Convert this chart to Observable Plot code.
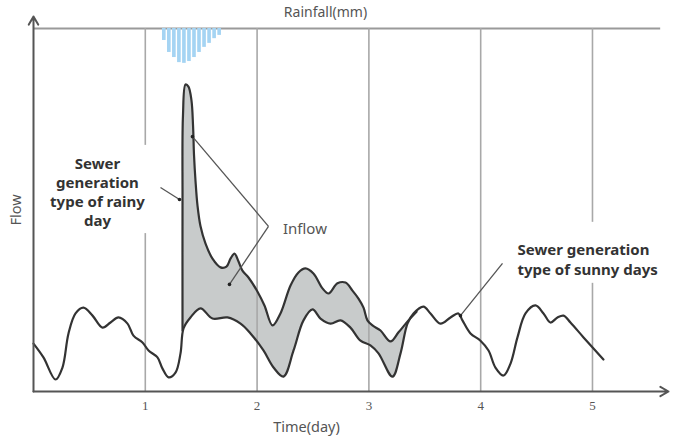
<!DOCTYPE html>
<html>
<head>
<meta charset="utf-8">
<script src="https://cdn.jsdelivr.net/npm/d3@7"></script>
<script src="https://cdn.jsdelivr.net/npm/@observablehq/plot@0.6"></script>
<style>
  html, body { margin: 0; padding: 0; background: #fff; }
</style>
</head>
<body>
<div id="chart"></div>
<script>
// ---- Data ----
// Dry-weather (sunny day) sewer flow: time in days, flow in relative units
const baseDay  = [0.000,0.089,0.197,0.259,0.313,0.376,0.447,0.528,0.617,0.689,0.760,0.841,0.894,0.975,1.029,1.109,1.154,1.208,1.270,1.315,1.342,1.404,1.494,1.601,1.735,1.852,1.941,2.057,2.147,2.236,2.326,2.415,2.496,2.567,2.657,2.746,2.835,2.925,3.014,3.086,3.211,3.283,3.345,3.399,3.488,3.551,3.640,3.730,3.801,3.837,3.909,3.998,4.070,4.132,4.204,4.267,4.329,4.401,4.490,4.562,4.624,4.687,4.741,4.803,4.920,5.098];
const baseFlow = [13.2,9.4,3.3,6.6,16.0,21.5,23.1,20.9,17.6,19.0,20.4,18.7,15.4,13.5,11.3,9.4,6.3,3.9,5.2,10.5,17.4,20.4,22.9,20.1,20.4,18.7,16.0,11.3,6.6,4.1,11.3,19.6,22.6,20.1,18.7,19.6,17.6,14.0,12.7,10.5,4.1,10.5,18.7,21.5,23.4,21.5,18.7,20.4,21.5,19.6,16.0,14.0,11.3,6.6,4.4,7.7,14.9,21.5,23.7,21.5,19.0,20.4,20.9,19.0,14.9,8.8];

// Wet-weather (rainy day) sewer flow
const rainyDay  = [1.333,1.333,1.337,1.360,1.386,1.413,1.427,1.436,1.449,1.467,1.494,1.538,1.601,1.673,1.726,1.762,1.798,1.834,1.869,1.923,2.004,2.066,2.138,2.209,2.299,2.370,2.433,2.504,2.585,2.639,2.719,2.791,2.853,2.907,2.952,2.987,3.032,3.104,3.193,3.265,3.354,3.426];
const rainyFlow = [16.8,52.6,76.0,84.6,84.0,80.2,73.3,65.0,58.1,51.2,45.5,40.8,36.6,34.2,34.4,36.6,38.0,35.8,33.3,31.4,27.5,23.7,18.2,21.5,29.2,32.8,33.9,32.5,28.4,27.0,29.8,30.0,27.8,25.6,23.1,19.6,18.2,16.8,13.8,16.3,19.6,22.0];

// Rainfall hyetograph (hanging from the top axis)
const rainDay = [1.170,1.215,1.260,1.305,1.350,1.395,1.440,1.485,1.530,1.575,1.620,1.665];
const rainMm  = [3.3,6.6,8.0,9.4,9.6,9.1,8.0,6.6,5.2,4.1,2.8,1.9];

// Axis ticks
const tickDays   = [1, 2, 3, 4, 5];
const tickLabels = ["1", "2", "3", "4", "5"];

// Gridline interruptions behind labels (flow units) per day
const gapDay  = [1, 5];
const gapLow  = [43.5, 29.8];
const gapHigh = [67.8, 46.6];

// Annotation texts
const rainyLabel = "Sewer\ngeneration\ntype of rainy\nday";
const sunnyLabel = "Sewer generation\ntype of sunny days";
const inflowLabel = "Inflow";
const xTitle = "Time(day)";
const yTitle = "Flow";
const topTitle = "Rainfall(mm)";

// ---- Build tables ----
const TOP = 100;
const base = baseDay.map((d, i) => ({day: d, flow: baseFlow[i]}));
const rainy = rainyDay.map((d, i) => ({day: d, flow: rainyFlow[i]}));
const rain = rainDay.map((d, i) => ({day: d, mm: rainMm[i]}));
const rainStep = 0.045;

const startDay = rainyDay[0], endDay = rainyDay[rainyDay.length - 1];
const polygon = rainy.concat(base.filter(p => p.day >= startDay && p.day <= endDay).reverse());

// gridline segments
const grid = [];
tickDays.forEach(d => {
  const g = gapDay.indexOf(d);
  if (g < 0) grid.push({day: d, y1: 0, y2: TOP});
  else {
    grid.push({day: d, y1: 0, y2: gapLow[g]});
    grid.push({day: d, y1: gapHigh[g], y2: TOP});
  }
});

const pointers = [
  {x1: 1.136, y1: 56.2, x2: 1.306, y2: 52.9},
  {x1: 2.102, y1: 45.5, x2: 1.422, y2: 70.2},
  {x1: 2.102, y1: 45.5, x2: 1.753, y2: 29.5},
  {x1: 4.195, y1: 35.3, x2: 3.819, y2: 20.9}
];

const lineColor = "#333";
const txtColor = "#555";

const chart = Plot.plot({
  width: 677,
  height: 438,
  marginLeft: 33,
  marginRight: 9,
  marginTop: 28,
  marginBottom: 47,
  x: {domain: [0, 5.68], axis: null},
  y: {domain: [0, TOP], axis: null},
  style: {fontFamily: "Noto Sans, sans-serif", background: "#fff"},
  marks: [
    // top rainfall axis line
    Plot.ruleY([TOP], {x1: 0, x2: 5.61, stroke: "#9a9a9a", strokeWidth: 2}),
    // rainfall bars
    Plot.rect(rain, {
      x1: d => d.day - rainStep / 2, x2: d => d.day + rainStep / 2,
      y1: TOP, y2: d => TOP - d.mm,
      insetLeft: 0.7, insetRight: 0.7,
      fill: "#a5d4f3"
    }),
    // inflow shading
    Plot.line(polygon, {x: "day", y: "flow", curve: "catmull-rom", fill: "#c8cbcb", stroke: "none"}),
    // gridlines
    Plot.ruleX(grid, {x: "day", y1: "y1", y2: "y2", stroke: "#a8a8a8", strokeWidth: 1.6}),
    // flow curves
    Plot.line(base, {x: "day", y: "flow", curve: "catmull-rom", stroke: lineColor, strokeWidth: 2.2}),
    Plot.line(rainy, {x: "day", y: "flow", curve: "catmull-rom", stroke: lineColor, strokeWidth: 2.2}),
    // axes with arrows
    Plot.arrow([{}], {x1: 0, y1: 0, x2: 0, y2: 103.3, stroke: "#555", strokeWidth: 2, headLength: 7}),
    Plot.arrow([{}], {x1: 0, y1: 0, x2: 5.68, y2: 0, stroke: "#555", strokeWidth: 2, headLength: 7}),
    // tick labels
    Plot.axisX({ticks: tickDays, tickFormat: (d, i) => tickLabels[i], tickSize: 0, tickPadding: 9,
      fontSize: 13, fontFamily: "Liberation Serif, serif", color: txtColor, label: null}),
    // pointer lines
    Plot.link(pointers, {x1: "x1", y1: "y1", x2: "x2", y2: "y2", stroke: "#555", strokeWidth: 1.3}),
    Plot.dot(pointers, {x: "x2", y: "y2", r: 1.8, fill: "#222", stroke: "none"}),
    // annotation texts
    Plot.text([rainyLabel], {x: 0.572, y: 55.2, text: d => d, fontSize: 15, fontWeight: "bold",
      fill: "#333", lineHeight: 1.27, textAnchor: "middle"}),
    Plot.text([sunnyLabel], {x: 4.329, y: 36.6, text: d => d, fontSize: 15, fontWeight: "bold",
      fill: "#333", lineHeight: 1.33, textAnchor: "start"}),
    Plot.text([inflowLabel], {x: 2.428, y: 44.6, text: d => d, fontSize: 15, fill: txtColor}),
    // axis titles
    Plot.text([xTitle], {x: 2.442, y: 0, dy: 36, text: d => d, fontSize: 14.5, fill: txtColor}),
    Plot.text([yTitle], {x: 0, y: 50, dx: -17, text: d => d, fontSize: 14.5, fill: txtColor, rotate: -90}),
    Plot.text([topTitle], {x: 2.612, y: TOP, dy: -16, text: d => d, fontSize: 14, fill: txtColor})
  ]
});

document.getElementById("chart").appendChild(chart);
</script>
</body>
</html>
